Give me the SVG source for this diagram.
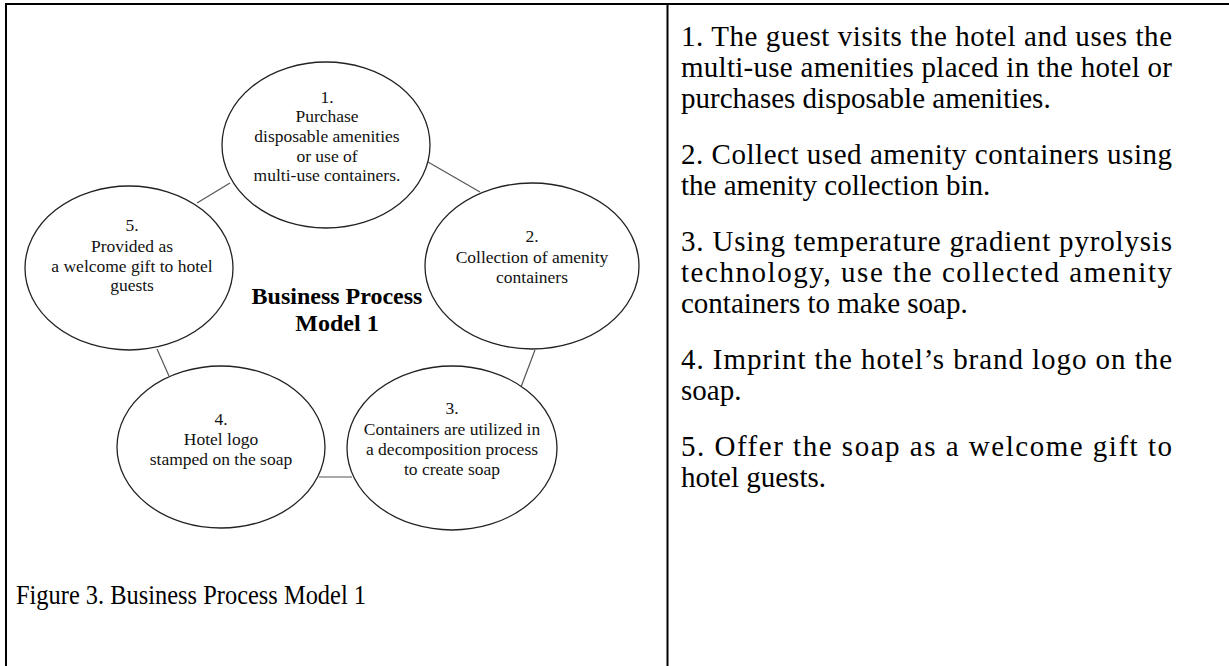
<svg xmlns="http://www.w3.org/2000/svg" width="1229" height="666" viewBox="0 0 1229 666">
<style>
.node ellipse{fill:#fff;stroke:#222;stroke-width:1.3}
.nt{font-family:"Liberation Serif","Times New Roman",serif;font-size:17.5px;fill:#111;text-anchor:middle}
.title{font-family:"Liberation Serif","Times New Roman",serif;font-size:24px;font-weight:bold;fill:#000;text-anchor:middle}
.body{font-family:"Liberation Serif","Times New Roman",serif;font-size:29px;fill:#000}
.cap{font-family:"Liberation Serif","Times New Roman",serif;font-size:27px;fill:#000}
.conn line{stroke:#555;stroke-width:1.2}
.border{stroke:#000;stroke-width:2;fill:none}
</style>
<rect width="1229" height="666" fill="#fff"/>
<g id="table">
<line class="border" x1="5" y1="4" x2="1229" y2="4"/>
<line class="border" x1="6" y1="3" x2="6" y2="666"/>
<line class="border" x1="667.5" y1="3" x2="667.5" y2="666" stroke="#333"/>
</g>
<g id="connectors" class="conn">
<line x1="428" y1="162" x2="480" y2="192"/>
<line x1="230" y1="183" x2="197" y2="203"/>
<line x1="157" y1="349" x2="169" y2="376"/>
<line x1="535" y1="350" x2="521" y2="387"/>
<line x1="319" y1="477" x2="352" y2="477"/>
</g>
<g id="node1" class="node">
<ellipse cx="326" cy="145" rx="104" ry="83"/>
<text class="nt" x="327" y="103">1.</text>
<text class="nt" x="327" y="122">Purchase</text>
<text class="nt" x="327" y="142">disposable amenities</text>
<text class="nt" x="327" y="162">or use of</text>
<text class="nt" x="327" y="181">multi-use containers.</text>
</g>
<g id="node2" class="node">
<ellipse cx="532" cy="266" rx="107" ry="83"/>
<text class="nt" x="532" y="242">2.</text>
<text class="nt" x="532" y="263">Collection of amenity</text>
<text class="nt" x="532" y="283">containers</text>
</g>
<g id="node3" class="node">
<ellipse cx="452" cy="448" rx="105" ry="82"/>
<text class="nt" x="452" y="414">3.</text>
<text class="nt" x="452" y="435">Containers are utilized in</text>
<text class="nt" x="452" y="455">a decomposition process</text>
<text class="nt" x="452" y="475">to create soap</text>
</g>
<g id="node4" class="node">
<ellipse cx="221" cy="447" rx="104" ry="81"/>
<text class="nt" x="221" y="425">4.</text>
<text class="nt" x="221" y="445">Hotel logo</text>
<text class="nt" x="221" y="465">stamped on the soap</text>
</g>
<g id="node5" class="node">
<ellipse cx="129" cy="268" rx="104" ry="82"/>
<text class="nt" x="132" y="231">5.</text>
<text class="nt" x="132" y="252">Provided as</text>
<text class="nt" x="132" y="272">a welcome gift to hotel</text>
<text class="nt" x="132" y="291">guests</text>
</g>
<g id="center-title">
<text class="title" x="337" y="304">Business Process</text>
<text class="title" x="337" y="331">Model 1</text>
</g>
<text class="cap" x="16" y="604" textLength="350" lengthAdjust="spacingAndGlyphs">Figure 3. Business Process Model 1</text>
<g id="steps" class="body">
<text x="681" y="46" textLength="491" lengthAdjust="spacing">1. The guest visits the hotel and uses the</text>
<text x="681" y="77" textLength="491" lengthAdjust="spacing">multi-use amenities placed in the hotel or</text>
<text x="681" y="108">purchases disposable amenities.</text>
<text x="681" y="164" textLength="491" lengthAdjust="spacing">2. Collect used amenity containers using</text>
<text x="681" y="195">the amenity collection bin.</text>
<text x="681" y="251" textLength="491" lengthAdjust="spacing">3. Using temperature gradient pyrolysis</text>
<text x="681" y="282" textLength="491" lengthAdjust="spacing">technology, use the collected amenity</text>
<text x="681" y="313">containers to make soap.</text>
<text x="681" y="369" textLength="491" lengthAdjust="spacing">4. Imprint the hotel’s brand logo on the</text>
<text x="681" y="400">soap.</text>
<text x="681" y="456" textLength="491" lengthAdjust="spacing">5. Offer the soap as a welcome gift to</text>
<text x="681" y="487">hotel guests.</text>
</g>
</svg>
